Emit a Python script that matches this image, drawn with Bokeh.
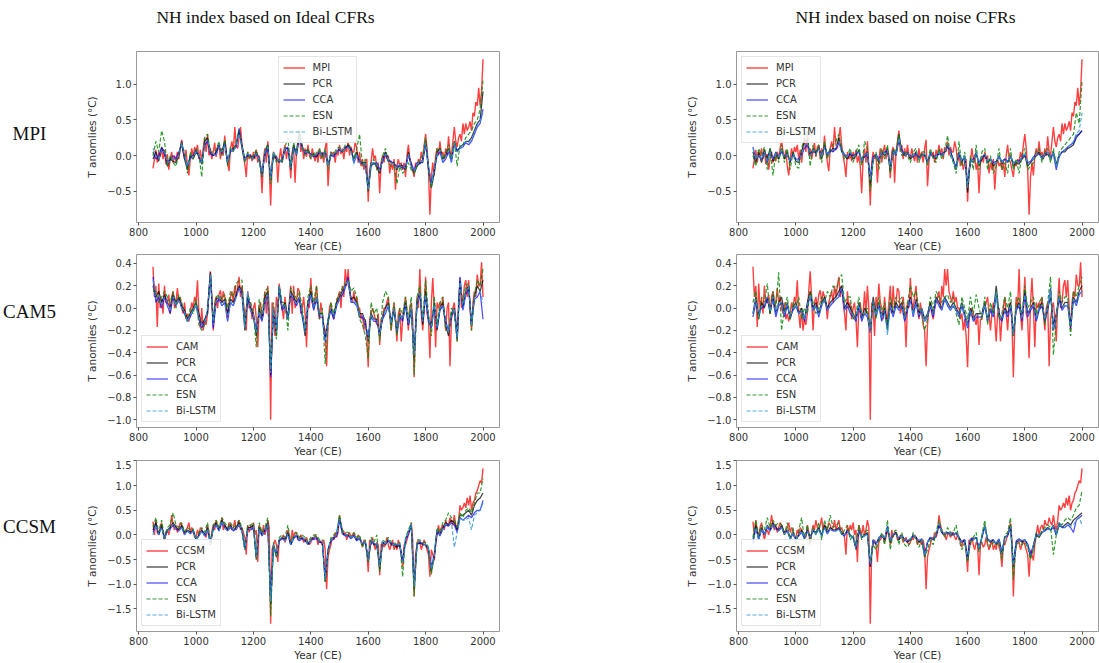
from bokeh.plotting import figure
from bokeh.layouts import row, column
from bokeh.models import Range1d, FixedTicker, Legend, LegendItem
from bokeh.core.properties import value
from bokeh.embed import file_html
from bokeh.resources import INLINE

# ---------------------------------------------------------------- data
# model (target) NH temperature anomalies, 5-year steps 850..2000
mpi_target = (
    [-0.18, -0.05, 0.08, -0.1, 0.05, -0.02, 0.1, -0.05, 0.08, -0.12, 0.02, -0.2, -0.05, 0.05, -0.1, 0.0, -0.08, 0.05, -0.05, 0.1]
    + [0.22, 0.05, -0.05, 0.08, -0.15, -0.28, -0.05, 0.1, -0.02, 0.12, 0.05, 0.15, -0.05, 0.08, -0.1, 0.1, 0.25, 0.05, 0.3, 0.0]
    + [0.1, -0.05, 0.05, 0.18, -0.02, 0.12, 0.15, -0.05, 0.1, 0.0, 0.28, 0.05, -0.1, -0.22, 0.1, 0.2, 0.05, 0.4, 0.15, 0.1]
    + [0.25, 0.4, 0.15, 0.0, -0.12, -0.3, 0.05, -0.05, 0.02, -0.08, 0.05, -0.05, 0.08, -0.1, 0.0, -0.15, -0.53, -0.05, 0.1, -0.1]
    + [0.2, -0.15, -0.7, -0.1, 0.05, -0.05, 0.0, -0.38, -0.05, 0.1, -0.1, 0.05, 0.15, -0.05, 0.1, 0.0, -0.32, 0.05, 0.12, -0.38]
    + [0.05, 0.2, 0.35, 0.05, 0.15, -0.05, 0.1, -0.02, 0.15, 0.0, -0.05, 0.1, 0.0, -0.08, 0.05, -0.1, 0.1, -0.05, 0.05, -0.1]
    + [0.1, 0.22, -0.43, -0.1, 0.05, 0.0, 0.05, -0.1, 0.08, 0.0, 0.15, 0.02, 0.1, -0.05, 0.12, 0.05, 0.2, 0.0, 0.12, 0.05]
    + [0.05, 0.2, 0.1, -0.1, 0.05, -0.15, -0.05, -0.2, -0.1, -0.05, -0.65, -0.2, -0.1, 0.1, -0.05, 0.0, -0.2, -0.1, -0.53, -0.1]
    + [0.0, -0.1, 0.05, -0.05, 0.0, -0.25, -0.1, -0.2, -0.05, -0.48, -0.15, -0.05, -0.15, -0.1, -0.2, -0.1, -0.3, 0.0, 0.15, -0.05]
    + [-0.1, -0.2, -0.3, -0.1, -0.15, -0.05, -0.1, 0.05, -0.05, 0.15, 0.3, 0.1, -0.2, -0.83, -0.3, -0.1, -0.28, 0.0, 0.1, 0.0]
    + [0.2, 0.0, 0.05, -0.05, 0.1, 0.0, 0.27, 0.05, 0.0, 0.2, 0.4, 0.2, 0.12, 0.25, 0.3, 0.2, 0.45, 0.3, 0.45, 0.35]
    + [0.4, 0.48, 0.35, 0.6, 0.55, 0.75, 0.7, 0.95, 0.7, 0.9, 1.35]
)
cam_target = (
    [0.37, 0.1, 0.2, -0.17, 0.22, 0.0, 0.08, -0.05, 0.2, 0.05, 0.05, 0.12, -0.05, 0.1, 0.15, 0.0, 0.05, 0.18, 0.05, 0.1]
    + [0.0, -0.05, 0.05, -0.1, -0.05, -0.12, -0.05, 0.05, 0.0, 0.1, 0.05, 0.25, -0.05, -0.18, 0.0, -0.2, -0.1, -0.15, -0.05, 0.15]
    + [0.33, 0.1, -0.2, 0.05, 0.1, 0.0, 0.12, 0.16, 0.05, 0.15, 0.1, 0.05, -0.1, 0.05, 0.1, 0.15, 0.05, 0.2, 0.1, 0.2]
    + [0.28, 0.1, 0.2, 0.05, -0.05, -0.2, 0.15, 0.0, 0.05, -0.1, 0.0, 0.05, -0.1, -0.35, 0.0, 0.05, -0.1, -0.05, 0.15, -0.05]
    + [0.2, 0.0, -1.0, 0.05, 0.0, -0.25, 0.1, 0.0, 0.22, 0.05, 0.0, -0.1, 0.1, -0.05, -0.1, 0.05, 0.2, -0.05, 0.2, 0.0]
    + [0.05, 0.18, 0.15, -0.05, 0.0, 0.1, -0.05, -0.35, 0.05, 0.0, 0.27, 0.05, 0.0, 0.1, 0.2, 0.0, -0.1, 0.05, -0.05, -0.15]
    + [-0.2, -0.52, -0.15, 0.0, 0.05, -0.05, -0.1, 0.0, 0.05, 0.1, 0.15, 0.0, 0.2, 0.1, 0.35, 0.2, 0.35, 0.15, 0.1, 0.05]
    + [0.15, 0.05, 0.1, 0.0, 0.0, -0.1, -0.05, -0.2, -0.1, -0.25, -0.53, -0.1, -0.05, 0.0, -0.05, -0.1, -0.15, -0.05, -0.33, -0.1]
    + [-0.1, 0.0, 0.0, 0.05, 0.1, -0.05, -0.2, -0.05, 0.05, -0.1, -0.3, -0.05, 0.0, -0.3, -0.1, 0.0, 0.1, -0.05, -0.2, 0.0]
    + [0.05, -0.1, -0.62, -0.15, 0.1, 0.0, 0.35, -0.05, -0.2, 0.0, 0.28, -0.05, -0.1, -0.45, 0.05, 0.27, 0.0, -0.35, 0.05, 0.0]
    + [0.05, 0.0, 0.1, -0.05, -0.2, 0.0, 0.05, -0.52, -0.1, 0.0, 0.05, -0.1, -0.3, 0.05, 0.27, 0.0, 0.05, 0.2, 0.25, 0.1]
    + [0.25, 0.0, -0.2, 0.05, 0.15, 0.1, 0.3, 0.2, 0.2, 0.41, 0.1]
)
ccsm_target = (
    [0.27, 0.0, 0.3, 0.05, 0.0, 0.15, 0.25, 0.05, -0.1, 0.05, 0.1, 0.0, 0.15, 0.4, 0.2, 0.1, 0.2, 0.05, 0.15, 0.25]
    + [0.2, 0.1, 0.0, 0.1, 0.15, 0.25, 0.05, 0.15, 0.1, -0.05, -0.05, 0.1, 0.0, 0.15, 0.1, 0.05, 0.0, -0.05, 0.2, 0.05]
    + [-0.2, 0.05, 0.2, 0.1, 0.3, 0.15, 0.1, 0.2, 0.35, 0.1, 0.2, 0.15, 0.1, 0.25, 0.2, 0.1, 0.15, 0.3, 0.1, 0.2]
    + [0.3, 0.1, 0.15, 0.05, -0.05, -0.4, 0.2, 0.05, 0.2, 0.1, 0.25, 0.0, 0.1, -0.55, 0.2, 0.1, 0.0, 0.2, 0.0, 0.1]
    + [0.3, 0.15, -1.8, -0.3, -0.2, -0.1, -0.2, -0.55, -0.1, -0.1, -0.05, 0.0, -0.15, -0.05, 0.1, 0.0, -0.2, 0.1, -0.05, 0.05]
    + [0.05, -0.1, -0.1, 0.0, -0.05, -0.15, -0.1, -0.05, -0.15, -0.2, -0.15, -0.05, -0.1, 0.0, -0.05, -0.2, -0.1, -0.15, -0.2, -0.1]
    + [-0.3, -1.1, -0.45, -0.3, -0.2, -0.05, -0.1, 0.05, -0.05, 0.05, 0.4, 0.2, 0.1, 0.0, 0.05, -0.1, 0.0, 0.05, -0.05, 0.0]
    + [0.05, -0.05, -0.1, 0.0, -0.05, -0.15, -0.25, -0.1, -0.15, -0.3, -0.75, -0.1, -0.2, -0.05, -0.2, -0.3, -0.15, -0.2, -0.82, -0.2]
    + [-0.15, -0.25, -0.2, -0.05, -0.2, -0.3, -0.2, -0.1, -0.3, -0.2, -0.3, -0.1, -0.25, -0.35, -0.65, -0.2, -0.2, -0.1, 0.0, 0.1]
    + [0.25, -0.1, -1.25, -0.4, -0.2, -0.1, -0.15, -0.3, -0.2, -0.1, -0.2, -0.3, -0.4, -0.85, -0.3, -0.4, -0.52, -0.2, 0.0, 0.2]
    + [0.0, 0.15, 0.2, 0.1, 0.3, 0.2, 0.2, 0.35, 0.25, 0.2, 0.4, 0.2, 0.1, 0.3, 0.6, 0.5, 0.55, 0.65, 0.55, 0.75]
    + [0.6, 0.8, 0.5, 0.65, 0.7, 0.85, 0.9, 1.0, 1.1, 1.05, 1.35]
)

# reconstructions, 10-year steps 850..2000
# --- MPI, ideal pseudo-proxies
mpi_ideal_pcr = (
    [-0.05, 0.05, -0.08, 0.12, 0.05, -0.15, -0.05, -0.08, -0.1, 0.0]
    + [0.2, -0.05, -0.2, 0.0, -0.05, 0.05, 0.0, -0.12, 0.2, 0.25]
    + [0.05, 0.0, 0.05, 0.12, 0.05, 0.2, -0.12, 0.08, 0.1, 0.15]
    + [0.35, 0.15, -0.05, 0.0, 0.0, -0.05, 0.05, -0.05, -0.3, 0.05]
    + [0.15, -0.35, 0.02, -0.05, -0.1, -0.05, 0.1, 0.1, -0.2, 0.15]
    + [0.0, 0.3, 0.1, 0.05, 0.08, 0.0, 0.02, -0.02, 0.05, 0.02]
    + [0.05, -0.15, 0.0, 0.0, 0.05, 0.1, 0.05, 0.1, 0.15, 0.08]
    + [-0.05, 0.05, -0.1, -0.1, -0.1, -0.5, -0.15, -0.1, -0.15, -0.25]
    + [-0.05, 0.05, -0.05, -0.1, -0.1, -0.2, -0.12, -0.15, -0.2, 0.05]
    + [-0.15, -0.25, -0.15, -0.1, -0.1, 0.2, -0.2, -0.45, -0.25, 0.05]
    + [0.1, -0.05, 0.0, 0.1, -0.05, 0.2, 0.05, 0.12, 0.15, 0.2]
    + [0.2, 0.25, 0.35, 0.45, 0.5, 0.9]
)
mpi_ideal_cca = (
    [0.05, -0.05, 0.0, 0.1, 0.02, -0.1, -0.05, 0.0, -0.05, 0.05]
    + [0.15, -0.02, -0.15, -0.02, 0.0, 0.08, -0.02, -0.1, 0.15, 0.2]
    + [0.02, 0.0, 0.02, 0.15, 0.02, 0.18, -0.08, 0.05, 0.08, 0.12]
    + [0.38, 0.1, -0.08, 0.02, -0.02, -0.02, 0.02, -0.05, -0.25, 0.02]
    + [0.1, -0.3, 0.0, -0.02, -0.08, -0.08, 0.08, 0.12, -0.15, 0.12]
    + [0.02, 0.25, 0.12, 0.02, 0.05, 0.02, -0.02, 0.0, 0.05, 0.0]
    + [0.05, -0.12, 0.02, -0.02, 0.05, 0.08, 0.05, 0.12, 0.12, 0.1]
    + [-0.1, 0.0, -0.08, -0.12, -0.12, -0.45, -0.1, -0.12, -0.1, -0.2]
    + [-0.08, 0.02, -0.08, -0.08, -0.12, -0.15, -0.15, -0.18, -0.15, 0.0]
    + [-0.12, -0.2, -0.1, -0.12, -0.05, 0.15, -0.15, -0.38, -0.2, 0.0]
    + [0.05, -0.1, -0.05, 0.05, -0.1, 0.15, 0.08, 0.1, 0.12, 0.18]
    + [0.15, 0.2, 0.3, 0.4, 0.45, 0.65]
)
mpi_ideal_esn = (
    [0.0, 0.2, 0.05, 0.35, 0.2, -0.15, 0.0, -0.1, -0.15, 0.02]
    + [0.15, 0.05, -0.25, 0.05, -0.05, 0.1, 0.0, -0.3, 0.25, 0.3]
    + [0.05, 0.05, 0.08, 0.2, 0.0, 0.22, -0.15, 0.12, 0.05, 0.2]
    + [0.35, 0.12, -0.1, 0.05, -0.05, 0.0, 0.08, -0.08, -0.3, 0.08]
    + [0.15, -0.4, 0.05, -0.1, -0.05, -0.1, 0.12, 0.25, -0.15, 0.18]
    + [0.05, 0.35, 0.15, 0.0, 0.1, -0.05, 0.05, 0.0, 0.1, -0.05]
    + [0.1, -0.2, 0.05, 0.02, 0.1, 0.12, 0.05, 0.15, 0.2, 0.08]
    + [-0.05, 0.1, 0.3, -0.15, -0.05, -0.5, -0.1, -0.05, -0.2, -0.2]
    + [0.0, 0.1, -0.1, -0.15, -0.1, -0.4, -0.15, -0.25, -0.2, -0.1]
    + [-0.2, -0.25, -0.15, -0.05, 0.0, 0.25, -0.15, -0.45, -0.2, 0.1]
    + [0.1, -0.05, 0.05, 0.15, -0.05, 0.2, -0.15, 0.15, 0.15, 0.25]
    + [0.3, 0.35, 0.45, 0.5, 0.65, 1.05]
)
mpi_ideal_bilstm = (
    [0.1, 0.0, -0.05, 0.08, 0.05, -0.1, -0.08, -0.05, -0.05, 0.0]
    + [0.18, 0.0, -0.15, -0.05, -0.02, 0.05, 0.02, -0.1, 0.18, 0.22]
    + [0.05, 0.02, 0.0, 0.12, 0.05, 0.15, -0.1, 0.1, 0.05, 0.15]
    + [0.3, 0.12, -0.05, 0.02, 0.0, -0.05, 0.03, -0.05, -0.28, 0.05]
    + [0.12, -0.32, 0.05, -0.02, -0.1, -0.05, 0.1, 0.08, -0.18, 0.1]
    + [0.0, 0.28, 0.1, 0.05, 0.05, 0.0, 0.0, 0.02, 0.05, 0.0]
    + [0.05, -0.15, 0.02, 0.0, 0.05, 0.1, 0.05, 0.1, 0.12, 0.05]
    + [-0.12, 0.02, -0.1, -0.1, -0.12, -0.48, -0.12, -0.1, -0.12, -0.22]
    + [-0.05, 0.02, -0.05, -0.1, -0.12, -0.18, -0.12, -0.15, -0.18, 0.02]
    + [-0.15, -0.22, -0.12, -0.1, -0.08, 0.18, -0.18, -0.4, -0.22, 0.02]
    + [0.08, -0.08, -0.02, 0.08, -0.08, 0.18, 0.05, 0.1, 0.15, 0.2]
    + [0.18, 0.22, 0.32, 0.42, 0.48, 0.6]
)
# --- MPI, noisy pseudo-proxies
mpi_noise_pcr = (
    [0.05, -0.1, 0.05, -0.1, 0.08, -0.05, 0.1, -0.08, 0.02, -0.05]
    + [0.1, -0.05, 0.05, -0.1, 0.05, -0.08, -0.1, 0.05, 0.2, 0.22]
    + [0.0, 0.1, 0.02, 0.12, -0.05, 0.15, 0.0, 0.05, 0.1, 0.08]
    + [0.25, 0.05, 0.0, -0.05, 0.05, -0.05, 0.0, 0.08, -0.1, 0.0]
    + [0.05, -0.42, -0.05, 0.0, -0.1, 0.05, 0.0, 0.1, -0.22, 0.05]
    + [0.0, 0.3, 0.05, 0.0, 0.05, -0.05, 0.0, 0.05, -0.05, 0.02]
    + [0.0, -0.1, 0.05, 0.0, -0.05, 0.05, 0.0, 0.05, 0.15, 0.05]
    + [-0.05, -0.2, 0.05, -0.1, 0.0, -0.52, -0.05, -0.1, 0.05, -0.15]
    + [-0.05, 0.02, -0.1, -0.05, -0.15, -0.1, 0.0, -0.12, -0.05, -0.1]
    + [0.0, -0.15, -0.1, -0.12, -0.05, 0.0, -0.15, -0.1, -0.05, 0.0]
    + [0.05, -0.05, 0.0, 0.02, -0.05, 0.05, -0.12, 0.0, 0.05, 0.05]
    + [0.1, 0.12, 0.15, 0.25, 0.3, 0.35]
)
mpi_noise_cca = (
    [0.12, -0.05, 0.0, -0.05, 0.05, -0.1, 0.05, -0.05, 0.05, -0.02]
    + [0.05, 0.0, 0.0, -0.08, 0.02, -0.05, -0.05, 0.02, 0.1, 0.15]
    + [0.02, 0.05, 0.05, 0.1, 0.0, 0.12, 0.02, 0.08, 0.05, 0.1]
    + [0.18, 0.08, 0.02, -0.02, 0.02, 0.0, 0.02, 0.05, -0.05, -0.02]
    + [0.02, -0.3, -0.02, 0.02, -0.05, 0.02, 0.05, 0.05, -0.15, 0.08]
    + [0.02, 0.2, 0.08, 0.02, 0.02, 0.0, -0.02, 0.02, -0.02, 0.0]
    + [0.02, -0.08, 0.02, -0.02, 0.0, 0.02, 0.02, 0.05, 0.12, 0.08]
    + [-0.08, -0.15, 0.02, -0.08, -0.02, -0.4, -0.08, -0.05, 0.02, -0.1]
    + [-0.02, 0.0, -0.08, -0.05, -0.1, -0.08, -0.02, -0.08, -0.05, -0.08]
    + [-0.02, -0.1, -0.08, -0.08, -0.02, 0.02, -0.1, -0.08, -0.02, 0.02]
    + [0.02, -0.02, 0.02, 0.05, -0.02, 0.02, -0.2, -0.02, 0.05, 0.08]
    + [0.12, 0.15, 0.18, 0.28, 0.3, 0.35]
)
mpi_noise_esn = (
    [0.0, -0.15, 0.1, 0.0, 0.12, -0.2, 0.1, -0.28, 0.05, -0.1]
    + [0.15, -0.1, 0.1, -0.2, 0.05, -0.15, -0.18, 0.1, 0.25, 0.35]
    + [-0.15, 0.15, 0.0, 0.15, -0.1, 0.2, -0.05, 0.1, 0.15, 0.2]
    + [0.3, 0.1, -0.05, 0.0, 0.1, -0.1, 0.05, 0.15, -0.15, 0.2]
    + [0.1, -0.5, -0.1, 0.05, -0.2, 0.1, -0.05, 0.15, -0.25, 0.1]
    + [0.05, 0.3, 0.0, 0.05, 0.0, -0.1, 0.05, 0.1, -0.1, 0.05]
    + [0.05, -0.15, 0.1, -0.05, -0.1, 0.1, -0.05, 0.05, 0.28, 0.0]
    + [-0.1, -0.25, 0.2, -0.15, 0.05, -0.45, 0.0, -0.2, 0.15, -0.2]
    + [0.05, 0.1, -0.2, 0.0, -0.25, -0.15, 0.1, -0.2, -0.1, -0.25]
    + [0.1, -0.2, -0.05, -0.25, 0.0, 0.1, -0.2, -0.15, -0.1, 0.05]
    + [0.1, -0.1, 0.05, 0.1, -0.1, 0.1, -0.15, 0.05, 0.1, 0.15]
    + [0.2, 0.25, 0.3, 0.6, 0.45, 1.05]
)
mpi_noise_bilstm = (
    [0.1, -0.05, 0.02, -0.05, 0.05, -0.08, 0.05, -0.05, 0.02, -0.02]
    + [0.08, -0.02, 0.02, -0.08, 0.02, -0.05, -0.08, 0.02, 0.15, 0.18]
    + [0.0, 0.08, 0.02, 0.1, -0.02, 0.12, 0.0, 0.05, 0.08, 0.1]
    + [0.2, 0.05, 0.0, -0.02, 0.05, -0.02, 0.0, 0.05, -0.08, 0.0]
    + [0.05, -0.35, -0.05, 0.0, -0.08, 0.05, 0.02, 0.08, -0.18, 0.05]
    + [0.0, 0.25, 0.05, 0.0, 0.05, -0.02, 0.0, 0.05, -0.05, 0.0]
    + [0.02, -0.1, 0.05, -0.02, -0.02, 0.05, 0.0, 0.05, 0.15, 0.05]
    + [-0.08, -0.18, 0.05, -0.08, 0.0, -0.45, -0.05, -0.08, 0.05, -0.12]
    + [-0.02, 0.02, -0.08, -0.05, -0.12, -0.1, 0.0, -0.1, -0.05, -0.1]
    + [0.0, -0.12, -0.08, -0.1, -0.02, 0.02, -0.12, -0.08, -0.05, 0.02]
    + [0.02, -0.05, 0.02, 0.05, -0.05, 0.05, -0.15, 0.0, 0.05, 0.08]
    + [0.12, 0.15, 0.2, 0.3, 0.35, 0.6]
)
# --- CAM5, ideal pseudo-proxies
cam_ideal_pcr = (
    [0.2, 0.1, 0.15, 0.05, 0.12, 0.05, 0.0, 0.12, 0.05, 0.1]
    + [0.02, -0.02, -0.1, -0.05, 0.0, 0.05, -0.05, -0.15, -0.1, -0.05]
    + [0.32, -0.15, 0.08, 0.1, 0.05, 0.08, -0.05, 0.08, 0.05, 0.12]
    + [0.2, 0.15, -0.2, 0.1, 0.0, -0.05, -0.25, 0.0, -0.1, 0.1]
    + [0.15, -0.6, 0.0, -0.25, 0.2, 0.0, 0.05, -0.08, 0.15, 0.1]
    + [0.05, 0.1, -0.05, -0.25, 0.05, 0.15, 0.0, 0.1, -0.05, -0.05]
    + [-0.28, -0.1, 0.0, -0.08, 0.05, 0.1, 0.15, 0.2, 0.25, 0.08]
    + [0.1, 0.05, -0.05, -0.05, -0.12, -0.3, -0.05, -0.1, -0.1, -0.25]
    + [-0.08, 0.0, 0.05, -0.15, 0.0, -0.2, -0.05, -0.1, 0.05, -0.15]
    + [0.0, -0.45, 0.05, 0.15, -0.15, 0.15, -0.1, -0.15, 0.05, -0.2]
    + [0.0, 0.05, -0.15, -0.25, -0.05, 0.0, -0.25, 0.25, 0.0, 0.15]
    + [0.2, -0.15, 0.1, 0.2, 0.15, 0.25]
)
cam_ideal_cca = (
    [0.28, 0.05, 0.1, 0.0, 0.1, 0.02, -0.05, 0.1, 0.02, 0.08]
    + [0.0, -0.05, -0.12, -0.08, -0.02, 0.02, -0.1, -0.18, -0.12, -0.02]
    + [0.3, -0.18, 0.05, 0.08, 0.02, 0.05, -0.12, 0.05, 0.02, 0.1]
    + [0.18, 0.12, -0.15, 0.12, -0.02, -0.08, -0.2, -0.05, -0.12, 0.05]
    + [0.12, -0.62, -0.02, -0.2, 0.18, -0.02, 0.02, -0.1, 0.12, 0.08]
    + [0.02, 0.08, -0.08, -0.2, 0.02, 0.12, -0.02, 0.08, -0.08, -0.08]
    + [-0.3, -0.12, -0.02, -0.1, 0.02, 0.08, 0.12, 0.18, 0.28, 0.05]
    + [0.05, 0.02, -0.08, -0.08, -0.15, -0.25, -0.08, -0.12, -0.12, -0.22]
    + [-0.1, -0.05, 0.02, -0.12, -0.02, -0.22, -0.08, -0.12, 0.02, -0.15]
    + [-0.02, -0.4, 0.02, 0.12, -0.12, 0.1, -0.12, -0.18, 0.02, -0.18]
    + [-0.02, 0.02, -0.12, -0.2, -0.08, -0.02, -0.28, 0.28, -0.02, 0.12]
    + [0.18, -0.15, 0.08, 0.1, 0.15, -0.1]
)
cam_ideal_esn = (
    [0.15, 0.15, 0.05, 0.1, 0.15, 0.1, 0.05, 0.15, 0.0, 0.12]
    + [0.05, -0.05, -0.12, 0.0, -0.05, 0.08, -0.15, -0.2, -0.15, 0.0]
    + [0.3, -0.1, 0.1, 0.12, 0.08, 0.12, 0.0, 0.15, 0.1, 0.22]
    + [0.25, 0.25, -0.15, 0.12, 0.05, -0.05, -0.35, 0.08, -0.05, 0.15]
    + [0.18, -0.55, 0.05, -0.28, 0.2, 0.05, 0.05, -0.2, 0.18, 0.15]
    + [0.08, 0.15, 0.0, -0.2, 0.1, 0.2, 0.05, 0.2, -0.1, 0.0]
    + [-0.5, -0.15, 0.05, -0.05, 0.08, 0.12, 0.18, 0.22, 0.25, 0.15]
    + [0.18, 0.1, -0.1, -0.15, -0.25, -0.45, 0.05, -0.05, 0.0, -0.3]
    + [0.05, 0.15, 0.1, -0.2, 0.05, -0.25, 0.0, -0.05, 0.1, -0.1]
    + [0.1, -0.6, 0.1, 0.2, -0.1, 0.25, -0.05, -0.25, 0.1, -0.15]
    + [0.05, 0.1, -0.2, -0.2, 0.0, -0.05, -0.3, 0.2, 0.05, 0.2]
    + [0.22, -0.2, 0.12, 0.25, 0.2, 0.35]
)
cam_ideal_bilstm = (
    [0.25, 0.08, 0.12, 0.02, 0.1, 0.05, -0.02, 0.1, 0.03, 0.08]
    + [0.0, -0.03, -0.12, -0.06, -0.02, 0.03, -0.08, -0.15, -0.12, -0.03]
    + [0.3, -0.15, 0.06, 0.1, 0.03, 0.06, -0.1, 0.06, 0.03, 0.1]
    + [0.18, 0.14, -0.18, 0.15, -0.02, -0.06, -0.22, -0.03, -0.1, 0.06]
    + [0.12, -0.58, 0.0, -0.22, 0.2, 0.0, 0.03, -0.1, 0.14, 0.08]
    + [0.03, 0.1, -0.06, -0.22, 0.03, 0.12, 0.0, 0.1, -0.06, -0.06]
    + [-0.3, -0.1, 0.0, -0.08, 0.03, 0.08, 0.14, 0.2, 0.25, 0.06]
    + [0.08, 0.03, -0.06, -0.06, -0.14, -0.28, -0.06, -0.1, -0.1, -0.24]
    + [-0.08, -0.02, 0.03, -0.14, 0.0, -0.2, -0.06, -0.1, 0.03, -0.14]
    + [0.0, -0.42, 0.03, 0.14, -0.12, 0.12, -0.1, -0.16, 0.03, -0.18]
    + [0.0, 0.03, -0.14, -0.22, -0.06, 0.0, -0.26, 0.26, 0.0, 0.14]
    + [0.2, -0.16, 0.1, 0.15, 0.15, 0.05]
)
# --- CAM5, noisy pseudo-proxies
cam_noise_pcr = (
    [-0.05, 0.1, -0.1, 0.05, 0.0, 0.1, -0.05, 0.12, -0.05, 0.05]
    + [0.1, -0.05, 0.05, -0.1, 0.0, 0.05, -0.05, 0.0, -0.1, 0.05]
    + [0.15, 0.0, 0.05, -0.05, 0.05, 0.1, 0.0, 0.05, 0.08, 0.1]
    + [0.15, 0.2, 0.0, 0.05, 0.0, -0.05, -0.1, 0.05, -0.1, 0.0]
    + [-0.05, -0.2, 0.1, -0.05, 0.05, -0.1, 0.0, -0.15, 0.05, -0.05]
    + [0.05, 0.0, 0.05, -0.1, 0.0, 0.1, -0.05, 0.08, -0.05, 0.0]
    + [-0.1, -0.05, 0.05, -0.05, 0.1, 0.05, 0.0, 0.1, 0.05, 0.0]
    + [0.05, 0.0, -0.05, 0.05, -0.05, -0.15, 0.0, -0.1, -0.05, -0.05]
    + [-0.05, 0.05, -0.1, 0.0, -0.05, 0.2, -0.05, -0.1, 0.0, -0.05]
    + [0.05, -0.25, 0.0, 0.05, -0.1, 0.15, -0.05, 0.0, 0.05, -0.1]
    + [0.0, 0.05, -0.1, 0.0, 0.1, -0.15, -0.05, 0.1, 0.0, 0.05]
    + [0.05, -0.15, 0.1, 0.05, 0.15, 0.2]
)
cam_noise_cca = (
    [-0.08, 0.05, -0.05, 0.0, 0.02, 0.08, -0.02, 0.08, -0.08, 0.02]
    + [0.05, -0.08, 0.02, -0.08, -0.02, 0.02, -0.05, -0.02, -0.12, 0.02]
    + [0.1, -0.02, 0.02, -0.08, 0.02, 0.08, -0.02, 0.02, 0.05, 0.08]
    + [0.1, 0.18, -0.02, 0.02, -0.05, -0.08, -0.12, 0.02, -0.12, -0.05]
    + [-0.08, -0.22, 0.05, -0.08, 0.02, -0.12, -0.02, -0.2, 0.02, -0.08]
    + [0.02, -0.02, 0.02, -0.12, -0.02, 0.08, -0.08, 0.05, -0.08, -0.02]
    + [-0.12, -0.08, 0.02, -0.08, 0.08, 0.02, -0.02, 0.08, 0.02, -0.02]
    + [0.02, -0.02, -0.08, 0.02, -0.08, -0.18, -0.02, -0.12, -0.08, -0.08]
    + [-0.08, 0.02, -0.12, -0.02, -0.08, 0.12, -0.08, -0.12, -0.02, -0.08]
    + [0.02, -0.22, -0.02, 0.02, -0.12, 0.12, -0.08, -0.02, 0.02, -0.12]
    + [-0.02, 0.02, -0.12, -0.02, 0.18, -0.2, -0.08, 0.08, -0.02, 0.02]
    + [0.02, -0.18, 0.08, 0.02, 0.12, 0.15]
)
cam_noise_esn = (
    [0.05, 0.15, -0.1, 0.1, 0.05, 0.22, -0.05, 0.15, 0.0, 0.32]
    + [-0.2, 0.0, 0.1, -0.1, 0.05, 0.0, 0.1, -0.1, 0.0, -0.05]
    + [0.15, 0.05, -0.05, 0.0, 0.1, 0.05, 0.15, 0.1, 0.2, 0.15]
    + [0.25, 0.3, 0.05, 0.1, 0.1, -0.1, -0.05, 0.1, -0.05, -0.05]
    + [0.0, -0.2, 0.05, -0.1, 0.1, -0.05, 0.05, -0.2, 0.1, 0.0]
    + [0.1, 0.05, 0.1, -0.05, 0.05, 0.2, 0.1, 0.15, 0.0, -0.05]
    + [-0.2, -0.1, 0.1, 0.0, 0.15, 0.1, 0.05, 0.1, 0.12, 0.05]
    + [0.1, -0.05, -0.15, 0.1, 0.0, -0.1, 0.1, -0.05, 0.12, 0.0]
    + [-0.1, 0.1, -0.15, 0.05, -0.05, 0.15, -0.1, -0.05, 0.1, 0.0]
    + [0.15, -0.25, 0.05, 0.1, -0.05, 0.2, 0.0, 0.05, 0.1, -0.05]
    + [0.05, 0.1, -0.15, 0.05, 0.28, -0.42, -0.1, 0.15, 0.05, 0.1]
    + [0.1, -0.25, 0.15, 0.1, 0.2, 0.28]
)
cam_noise_bilstm = (
    [-0.05, 0.08, -0.08, 0.02, 0.02, 0.1, -0.03, 0.1, -0.05, 0.05]
    + [0.05, -0.06, 0.03, -0.08, 0.0, 0.03, -0.05, -0.02, -0.1, 0.03]
    + [0.12, -0.02, 0.03, -0.06, 0.03, 0.08, -0.02, 0.03, 0.06, 0.08]
    + [0.12, 0.18, -0.02, 0.03, -0.03, -0.06, -0.1, 0.03, -0.1, -0.03]
    + [-0.06, -0.22, 0.06, -0.06, 0.03, -0.1, -0.02, -0.24, 0.03, -0.06]
    + [0.03, -0.02, 0.03, -0.1, 0.0, 0.08, -0.06, 0.06, -0.06, 0.0]
    + [-0.12, -0.06, 0.03, -0.06, 0.08, 0.03, 0.0, 0.08, 0.03, -0.02]
    + [0.03, -0.02, -0.06, 0.03, -0.06, -0.16, -0.02, -0.1, -0.06, -0.06]
    + [-0.06, 0.03, -0.1, 0.0, -0.06, 0.14, -0.06, -0.1, -0.02, -0.06]
    + [0.03, -0.24, 0.0, 0.03, -0.1, 0.12, -0.06, 0.0, 0.03, -0.1]
    + [0.0, 0.03, -0.1, 0.0, 0.15, -0.18, -0.06, 0.1, 0.0, 0.03]
    + [0.04, -0.16, 0.08, 0.04, 0.12, 0.15]
)
# --- CCSM, ideal pseudo-proxies
ccsm_ideal_pcr = (
    [0.1, 0.25, 0.0, 0.2, -0.1, 0.1, 0.15, 0.25, 0.15, 0.1]
    + [0.2, 0.05, 0.1, 0.05, 0.1, -0.1, 0.0, 0.1, 0.0, 0.15]
    + [-0.2, 0.15, 0.25, 0.1, 0.3, 0.2, 0.1, 0.2, 0.1, 0.15]
    + [0.25, 0.1, -0.3, 0.15, 0.15, 0.2, -0.5, 0.15, 0.0, 0.1]
    + [0.25, -1.4, -0.2, -0.45, -0.1, -0.05, -0.1, 0.05, -0.2, -0.05]
    + [0.0, -0.1, -0.05, -0.1, -0.2, -0.1, -0.05, -0.05, -0.15, -0.15]
    + [-0.95, -0.3, -0.1, -0.05, 0.0, 0.35, 0.05, 0.0, 0.0, -0.05]
    + [0.0, -0.1, -0.05, -0.2, -0.15, -0.55, -0.1, -0.2, -0.2, -0.7]
    + [-0.15, -0.2, -0.1, -0.2, -0.2, -0.25, -0.2, -0.55, -0.1, 0.05]
    + [0.2, -1.1, -0.2, -0.15, -0.2, -0.2, -0.3, -0.75, -0.45, 0.1]
    + [0.0, 0.15, 0.25, 0.2, 0.3, 0.25, 0.1, 0.4, 0.4, 0.45]
    + [0.5, 0.4, 0.6, 0.7, 0.75, 0.85]
)
ccsm_ideal_cca = (
    [0.05, 0.2, 0.02, 0.15, -0.05, 0.08, 0.12, 0.2, 0.12, 0.08]
    + [0.15, 0.02, 0.08, 0.02, 0.08, -0.08, -0.02, 0.08, -0.02, 0.1]
    + [-0.15, 0.12, 0.2, 0.08, 0.25, 0.15, 0.08, 0.15, 0.08, 0.12]
    + [0.2, 0.08, -0.28, 0.12, 0.1, 0.15, -0.45, 0.12, -0.02, 0.08]
    + [0.2, -1.3, -0.2, -0.4, -0.12, -0.08, -0.12, 0.02, -0.2, -0.08]
    + [-0.02, -0.12, -0.08, -0.12, -0.18, -0.12, -0.08, -0.08, -0.15, -0.15]
    + [-0.85, -0.3, -0.12, -0.08, -0.02, 0.3, 0.02, -0.02, -0.02, -0.08]
    + [-0.02, -0.12, -0.08, -0.18, -0.15, -0.5, -0.12, -0.18, -0.18, -0.6]
    + [-0.15, -0.18, -0.12, -0.18, -0.18, -0.22, -0.18, -0.55, -0.12, 0.02]
    + [0.2, -1.0, -0.2, -0.15, -0.18, -0.2, -0.28, -0.65, -0.4, 0.08]
    + [-0.02, 0.12, 0.2, 0.18, 0.25, 0.2, 0.05, 0.35, 0.3, 0.35]
    + [0.4, 0.35, 0.45, 0.5, 0.5, 0.7]
)
ccsm_ideal_esn = (
    [0.15, 0.35, 0.05, 0.3, -0.05, 0.15, 0.2, 0.45, 0.2, 0.15]
    + [0.25, 0.05, 0.15, 0.1, 0.12, -0.1, 0.05, 0.15, 0.05, 0.25]
    + [-0.15, 0.2, 0.3, 0.15, 0.35, 0.25, 0.15, 0.25, 0.15, 0.2]
    + [0.3, 0.15, -0.3, 0.2, 0.2, 0.25, -0.5, 0.25, 0.05, 0.15]
    + [0.35, -1.65, -0.15, -0.45, -0.05, 0.0, -0.05, 0.2, -0.15, 0.0]
    + [0.05, -0.05, 0.0, -0.05, -0.15, -0.05, 0.0, 0.0, -0.1, -0.1]
    + [-0.95, -0.35, -0.05, 0.0, 0.05, 0.4, 0.1, 0.05, 0.05, -0.05]
    + [0.05, -0.05, 0.0, -0.25, -0.1, -0.55, -0.05, -0.15, 0.0, -0.75]
    + [-0.1, -0.15, -0.05, -0.15, -0.15, -0.2, -0.15, -0.85, -0.05, 0.1]
    + [0.25, -1.25, -0.1, -0.1, -0.15, -0.15, -0.25, -0.8, -0.4, 0.15]
    + [0.05, 0.25, 0.3, 0.45, 0.35, 0.3, 0.15, 0.45, 0.35, 0.5]
    + [0.55, 0.45, 0.65, 0.85, 0.85, 1.15]
)
ccsm_ideal_bilstm = (
    [0.0, 0.2, 0.0, 0.15, -0.08, 0.08, 0.12, 0.22, 0.12, 0.08]
    + [0.15, 0.0, 0.08, 0.02, 0.08, -0.1, -0.02, 0.08, -0.02, 0.12]
    + [-0.18, 0.12, 0.22, 0.08, 0.28, 0.15, 0.08, 0.18, 0.1, 0.12]
    + [0.22, 0.08, -0.3, 0.12, 0.12, 0.18, -0.45, 0.12, 0.0, 0.08]
    + [0.22, -1.35, -0.2, -0.42, -0.1, -0.05, -0.12, 0.02, -0.2, -0.05]
    + [0.0, -0.1, -0.05, -0.1, -0.2, -0.12, -0.05, -0.05, -0.15, -0.12]
    + [-0.9, -0.3, -0.1, -0.05, 0.0, 0.32, 0.02, 0.0, 0.0, -0.05]
    + [0.0, -0.1, -0.05, -0.2, -0.15, -0.52, -0.1, -0.18, -0.18, -0.65]
    + [-0.12, -0.18, -0.1, -0.18, -0.2, -0.22, -0.18, -0.55, -0.1, 0.05]
    + [0.22, -1.05, -0.2, -0.12, -0.18, -0.2, -0.28, -0.7, -0.42, 0.1]
    + [0.0, 0.12, 0.22, 0.2, 0.25, -0.25, 0.05, 0.35, 0.3, 0.3]
    + [0.35, 0.1, 0.4, 0.45, 0.5, 0.65]
)
# --- CCSM, noisy pseudo-proxies
ccsm_noise_pcr = (
    [-0.1, 0.2, -0.1, 0.15, 0.0, 0.2, 0.1, 0.25, 0.15, 0.1]
    + [0.2, 0.05, 0.1, -0.05, 0.05, -0.1, 0.0, 0.1, -0.05, 0.1]
    + [-0.05, 0.1, 0.05, 0.15, 0.0, 0.2, 0.05, 0.15, 0.1, 0.1]
    + [0.15, 0.05, 0.0, 0.1, 0.0, -0.05, -0.3, 0.1, -0.05, 0.0]
    + [0.05, -0.65, -0.1, -0.2, -0.05, 0.0, -0.1, 0.15, -0.15, 0.0]
    + [0.05, -0.1, 0.0, -0.1, -0.15, -0.1, 0.0, -0.05, -0.15, -0.1]
    + [-0.45, -0.15, -0.05, -0.1, 0.0, 0.2, 0.05, 0.0, 0.05, 0.0]
    + [0.0, 0.05, -0.05, -0.15, -0.1, -0.5, -0.1, -0.1, -0.05, -0.3]
    + [-0.05, 0.2, -0.1, -0.15, -0.1, -0.2, -0.1, -0.4, -0.05, 0.0]
    + [0.2, -0.65, -0.15, -0.1, -0.15, -0.1, -0.2, -0.45, -0.25, 0.0]
    + [-0.05, 0.05, 0.1, 0.15, 0.1, 0.2, 0.0, 0.2, 0.15, 0.2]
    + [0.25, 0.2, 0.3, 0.35, 0.4, 0.45]
)
ccsm_noise_cca = (
    [-0.15, 0.15, -0.08, 0.1, 0.02, 0.15, 0.08, 0.2, 0.12, 0.08]
    + [0.15, 0.02, 0.08, -0.08, 0.02, -0.08, -0.02, 0.05, -0.08, 0.08]
    + [-0.05, 0.08, 0.02, 0.12, -0.02, 0.15, 0.02, 0.12, 0.08, 0.08]
    + [0.12, 0.02, -0.02, 0.08, -0.02, -0.05, -0.25, 0.08, -0.05, -0.02]
    + [0.02, -0.62, -0.1, -0.18, -0.08, -0.02, -0.08, 0.18, -0.12, 0.02]
    + [0.02, -0.08, -0.02, -0.1, -0.12, -0.08, -0.02, -0.05, -0.12, -0.08]
    + [-0.4, -0.15, -0.05, -0.08, -0.02, 0.22, 0.05, 0.02, 0.05, 0.02]
    + [0.02, 0.02, -0.05, -0.15, -0.1, -0.45, -0.08, -0.08, -0.05, -0.25]
    + [-0.05, 0.15, -0.08, -0.12, -0.1, -0.18, -0.08, -0.35, -0.05, -0.02]
    + [0.15, -0.6, -0.12, -0.08, -0.12, -0.1, -0.18, -0.4, -0.2, 0.02]
    + [-0.02, 0.05, 0.08, 0.12, 0.1, 0.15, 0.0, 0.25, 0.15, 0.15]
    + [0.2, 0.15, 0.05, 0.3, 0.35, 0.4]
)
ccsm_noise_esn = (
    [-0.05, 0.3, 0.0, 0.2, 0.1, 0.35, 0.15, 0.3, 0.2, 0.25]
    + [0.2, 0.0, 0.25, -0.15, 0.15, -0.2, 0.1, 0.35, -0.1, 0.2]
    + [-0.15, 0.15, 0.0, 0.25, -0.1, 0.3, 0.1, 0.4, 0.15, 0.2]
    + [0.25, 0.0, 0.1, 0.2, -0.1, 0.0, -0.2, 0.2, -0.1, 0.05]
    + [0.1, -0.55, -0.2, -0.3, -0.15, 0.05, -0.2, 0.3, -0.3, 0.05]
    + [0.1, -0.2, 0.05, -0.2, -0.25, -0.15, 0.05, -0.1, -0.25, -0.1]
    + [-0.45, -0.3, -0.1, -0.2, 0.05, 0.3, 0.1, -0.05, 0.15, 0.05]
    + [0.05, 0.2, -0.1, -0.3, -0.15, -0.55, -0.15, -0.05, 0.05, -0.35]
    + [0.0, 0.3, -0.15, -0.25, -0.15, -0.2, -0.15, -0.5, 0.0, 0.05]
    + [0.35, -0.9, -0.2, -0.15, -0.2, -0.15, -0.25, -0.5, -0.3, 0.05]
    + [-0.05, 0.1, 0.15, 0.2, 0.15, -0.4, 0.0, 0.25, 0.2, 0.3]
    + [0.35, 0.3, 0.4, 0.55, 0.6, 0.9]
)
ccsm_noise_bilstm = (
    [-0.2, 0.15, -0.1, 0.12, 0.0, 0.18, 0.08, 0.22, 0.12, 0.08]
    + [0.15, 0.02, 0.1, -0.08, 0.05, -0.1, 0.0, 0.08, -0.05, 0.08]
    + [-0.05, 0.1, 0.02, 0.12, -0.02, 0.15, 0.02, 0.12, 0.08, 0.08]
    + [0.12, 0.02, 0.0, 0.08, -0.02, -0.05, -0.28, 0.08, -0.05, -0.02]
    + [0.02, -0.6, -0.1, -0.2, -0.05, 0.0, -0.08, 0.15, -0.12, 0.02]
    + [0.02, -0.08, -0.02, -0.1, -0.12, -0.08, 0.0, -0.05, -0.12, -0.08]
    + [-0.42, -0.15, -0.05, -0.08, 0.0, 0.22, 0.05, 0.02, 0.05, 0.0]
    + [0.0, 0.05, -0.05, -0.15, -0.1, -0.48, -0.08, -0.1, -0.05, -0.28]
    + [-0.05, 0.18, -0.1, -0.12, -0.1, -0.18, -0.08, -0.38, -0.05, 0.0]
    + [0.18, -0.62, -0.12, -0.1, -0.12, -0.1, -0.2, -0.42, -0.22, 0.0]
    + [-0.02, 0.05, 0.1, 0.12, 0.1, 0.18, 0.0, 0.22, 0.15, 0.15]
    + [0.22, 0.18, 0.2, 0.3, 0.35, 0.2]
)

target_years = list(range(850, 2001, 5))
recon_years = list(range(850, 2001, 10))
for s in (mpi_target, cam_target, ccsm_target):
    assert len(s) == len(target_years), len(s)
for s in (mpi_ideal_pcr, mpi_ideal_cca, mpi_ideal_esn, mpi_ideal_bilstm,
          mpi_noise_pcr, mpi_noise_cca, mpi_noise_esn, mpi_noise_bilstm,
          cam_ideal_pcr, cam_ideal_cca, cam_ideal_esn, cam_ideal_bilstm,
          cam_noise_pcr, cam_noise_cca, cam_noise_esn, cam_noise_bilstm,
          ccsm_ideal_pcr, ccsm_ideal_cca, ccsm_ideal_esn, ccsm_ideal_bilstm,
          ccsm_noise_pcr, ccsm_noise_cca, ccsm_noise_esn, ccsm_noise_bilstm):
    assert len(s) == len(recon_years), len(s)

method_names = ["PCR", "CCA", "ESN", "Bi-LSTM"]
x_ticks = [800, 1000, 1200, 1400, 1600, 1800, 2000]
x_tick_labels = ["800", "1000", "1200", "1400", "1600", "1800", "2000"]
mpi_y_ticks = [-0.5, 0.0, 0.5, 1.0]
mpi_y_labels = ["\u22120.5", "0.0", "0.5", "1.0"]
cam_y_ticks = [-1.0, -0.8, -0.6, -0.4, -0.2, 0.0, 0.2, 0.4]
cam_y_labels = ["\u22121.0", "\u22120.8", "\u22120.6", "\u22120.4", "\u22120.2", "0.0", "0.2", "0.4"]
ccsm_y_ticks = [-1.5, -1.0, -0.5, 0.0, 0.5, 1.0, 1.5]
ccsm_y_labels = ["\u22121.5", "\u22121.0", "\u22120.5", "0.0", "0.5", "1.0", "1.5"]

# ---------------------------------------------------------------- styling
FONT = "DejaVu Sans"
SERIF = "Liberation Serif"
TICK_COLOR = "#333333"
STYLES = {
    "target": dict(color="#ff0000", alpha=0.75, width=1.4, dash="solid"),
    "PCR": dict(color="#000000", alpha=0.75, width=1.25, dash="solid"),
    "CCA": dict(color="#0000ff", alpha=0.7, width=1.25, dash="solid"),
    "ESN": dict(color="#118811", alpha=0.85, width=1.2, dash="4 2"),
    "Bi-LSTM": dict(color="#3a9ad9", alpha=0.85, width=1.2, dash="4 2"),
}


def make_panel(target_name, target, recons, y_range, y_ticks, y_labels,
               legend_loc, width, height, border_left, border_right, border_bottom):
    p = figure(width=width, height=height, title=None,
               x_range=Range1d(792.5, 2057.5), y_range=Range1d(*y_range),
               output_backend="svg", toolbar_location=None,
               min_border_left=border_left, min_border_right=border_right,
               min_border_top=0, min_border_bottom=border_bottom)
    p.background_fill_color = "white"
    p.border_fill_color = "white"
    p.outline_line_color = "#9a9a9a"
    p.outline_line_width = 1
    p.xgrid.visible = False
    p.ygrid.visible = False

    for ax in (p.xaxis[0], p.yaxis[0]):
        ax.axis_line_color = None
        ax.major_tick_line_color = "#555555"
        ax.major_tick_out = 3
        ax.major_tick_in = 0
        ax.minor_tick_line_color = None
        ax.major_label_text_font = FONT
        ax.major_label_text_font_size = "10px"
        ax.major_label_text_color = TICK_COLOR
        ax.axis_label_text_font = FONT
        ax.axis_label_text_font_size = "10.5px"
        ax.axis_label_text_font_style = "normal"
        ax.axis_label_text_color = TICK_COLOR
        ax.major_label_standoff = 2

    p.xaxis.ticker = FixedTicker(ticks=x_ticks)
    p.xaxis.major_label_overrides = dict(zip([float(t) for t in x_ticks], x_tick_labels))
    p.xaxis.axis_label = "Year (CE)"
    p.xaxis.axis_label_standoff = 1
    p.yaxis.ticker = FixedTicker(ticks=y_ticks)
    p.yaxis.major_label_overrides = dict(zip(y_ticks, y_labels))
    p.yaxis.axis_label = "T anomlies (\u00b0C)"
    p.yaxis.axis_label_standoff = 6

    items = []
    st = STYLES["target"]
    r = p.line(target_years, target, line_color=st["color"], line_alpha=st["alpha"],
               line_width=st["width"])
    items.append(LegendItem(label=target_name, renderers=[r]))
    for name, series in zip(method_names, recons):
        st = STYLES[name]
        r = p.line(recon_years, series, line_color=st["color"], line_alpha=st["alpha"],
                   line_width=st["width"], line_dash=st["dash"])
        items.append(LegendItem(label=name, renderers=[r]))

    legend = Legend(items=items, location=legend_loc, margin=5, padding=4,
                    spacing=3, label_height=13, glyph_height=13, glyph_width=22,
                    label_standoff=8, label_text_font=FONT,
                    label_text_font_size="10px", label_text_color=TICK_COLOR,
                    border_line_color="#cccccc", border_line_width=1,
                    background_fill_color="white", background_fill_alpha=0.85)
    p.add_layout(legend)
    return p


LEFT_W, RIGHT_W = 450, 579
rows_spec = [
    # (label, target, ideal recons, noise recons, y range, ticks, labels, legends, height, bottom border)
    ("MPI", mpi_target,
     [mpi_ideal_pcr, mpi_ideal_cca, mpi_ideal_esn, mpi_ideal_bilstm],
     [mpi_noise_pcr, mpi_noise_cca, mpi_noise_esn, mpi_noise_bilstm],
     (-0.94, 1.46), mpi_y_ticks, mpi_y_labels, ("top_center", "top_left"), 203, 30),
    ("CAM", cam_target,
     [cam_ideal_pcr, cam_ideal_cca, cam_ideal_esn, cam_ideal_bilstm],
     [cam_noise_pcr, cam_noise_cca, cam_noise_esn, cam_noise_bilstm],
     (-1.07, 0.48), cam_y_ticks, cam_y_labels, ("bottom_left", "bottom_left"), 206, 33),
    ("CCSM", ccsm_target,
     [ccsm_ideal_pcr, ccsm_ideal_cca, ccsm_ideal_esn, ccsm_ideal_bilstm],
     [ccsm_noise_pcr, ccsm_noise_cca, ccsm_noise_esn, ccsm_noise_bilstm],
     (-1.96, 1.51), ccsm_y_ticks, ccsm_y_labels, ("bottom_left", "bottom_left"), 203, 30),
]

left_panels, right_panels = [], []
for name, tgt, ideal, noise, yr, yt, yl, locs, h, bb in rows_spec:
    left_panels.append(make_panel(name, tgt, ideal, yr, yt, yl, locs[0],
                                  LEFT_W, h, 66, 21, bb))
    right_panels.append(make_panel(name, tgt, noise, yr, yt, yl, locs[1],
                                   RIGHT_W, h, 216, 1, bb))

# column headings
column_titles = ["NH index based on Ideal CFRs", "NH index based on noise CFRs"]
header = figure(width=1099, height=51, x_range=Range1d(0, 1099), y_range=Range1d(51, 0),
                x_axis_type=None, y_axis_type=None, title=None,
                output_backend="svg", toolbar_location=None, min_border=0)
header.outline_line_color = None
header.text(x=[265, 905], y=[16, 16], text=column_titles, text_align="center",
            text_baseline="middle", text_font=value(SERIF), text_font_size="17.5px",
            text_color="#111111")

# row headings
row_titles = ["MPI", "CAM5", "CCSM"]
side = figure(width=70, height=612, x_range=Range1d(0, 70), y_range=Range1d(612, 0),
              x_axis_type=None, y_axis_type=None, title=None,
              output_backend="svg", toolbar_location=None, min_border=0)
side.outline_line_color = None
side.text(x=[29, 29, 29], y=[82, 260, 475], text=row_titles, text_align="center",
          text_baseline="middle", text_font=value(SERIF), text_font_size="19px",
          text_color="#111111")

layout = column(header,
                row(side, column(*left_panels, spacing=0), column(*right_panels, spacing=0),
                    spacing=0),
                spacing=0)

open("out.html", "w").write(file_html(layout, INLINE))
